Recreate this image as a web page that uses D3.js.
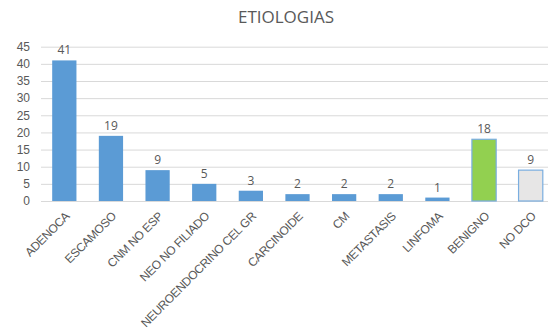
<!DOCTYPE html>
<html>
<head>
<meta charset="utf-8">
<script src="https://cdn.jsdelivr.net/npm/d3@7"></script>
<style>
  body { margin: 0; background: #fff; }
  svg { font-family: "Open Sans", sans-serif; }
</style>
</head>
<body>
<svg width="548" height="331"></svg>
<script>
var categories = ["ADENOCA", "ESCAMOSO", "CNM NO ESP", "NEO NO FILIADO", "NEUROENDOCRINO CEL GR",
  "CARCINOIDE", "CM", "METASTASIS", "LINFOMA", "BENIGNO", "NO DCO"];
var values = [41, 19, 9, 5, 3, 2, 2, 2, 1, 18, 9];
var fills = ["#5b9bd5", "#5b9bd5", "#5b9bd5", "#5b9bd5", "#5b9bd5", "#5b9bd5",
  "#5b9bd5", "#5b9bd5", "#5b9bd5", "#92d050", "#e7e6e6"];
var yTicks = [0, 5, 10, 15, 20, 25, 30, 35, 40, 45];

var svg = d3.select("svg");

var xScale = d3.scaleBand().domain(categories).range([41, 554]).paddingInner(0.48).paddingOuter(0.24);
var yScale = d3.scaleLinear().domain([0, 45]).range([201, 46.7]);

svg.append("text")
  .attr("x", 286)
  .attr("y", 23)
  .attr("text-anchor", "middle")
  .style("font-size", "17px")
  .style("fill", "#595959")
  .text("ETIOLOGIAS");

// gridlines
var yAxis = d3.axisLeft(yScale).tickValues(yTicks).tickSize(-513);
var yG = svg.append("g")
  .attr("transform", "translate(41,0)")
  .call(yAxis);
yG.select("path.domain").remove();
yG.selectAll(".tick line").style("stroke", "#d9d9d9");
yG.selectAll(".tick text")
  .style("font-size", "12px")
  .style("fill", "#595959")
  .attr("x", -11)
  .attr("text-anchor", "end");

var xAxis = d3.axisBottom(xScale).tickSize(0).tickPadding(0);
var xG = svg.append("g")
  .attr("transform", "translate(0,201)")
  .call(xAxis);
xG.select("path.domain").remove();
xG.selectAll(".tick text")
  .style("font-size", "12px")
  .style("fill", "#595959")
  .style("letter-spacing", "-0.35px")
  .attr("text-anchor", "end")
  .attr("dy", "0.35em")
  .attr("transform", "translate(3,13) rotate(-45)");

svg.selectAll("rect.bar")
  .data(values).enter()
  .append("rect")
  .attr("class", "bar")
  .attr("x", function (d, i) { return xScale(categories[i]); })
  .attr("width", xScale.bandwidth())
  .attr("y", function (d) { return yScale(d); })
  .attr("height", function (d) { return yScale(0) - yScale(d); })
  .style("fill", function (d, i) { return fills[i]; })
  .style("stroke", function (d, i) { return i >= 9 ? "#7aaee0" : "none"; })
  .style("stroke-width", "1.2px");

svg.selectAll("text.val")
  .data(values).enter()
  .append("text")
  .attr("class", "val")
  .attr("x", function (d, i) { return xScale(categories[i]) + xScale.bandwidth() / 2; })
  .attr("y", function (d) { return yScale(d) - 6; })
  .attr("text-anchor", "middle")
  .style("font-size", "12px")
  .style("fill", "#595959")
  .text(function (d) { return d; });
</script>
</body>
</html>
